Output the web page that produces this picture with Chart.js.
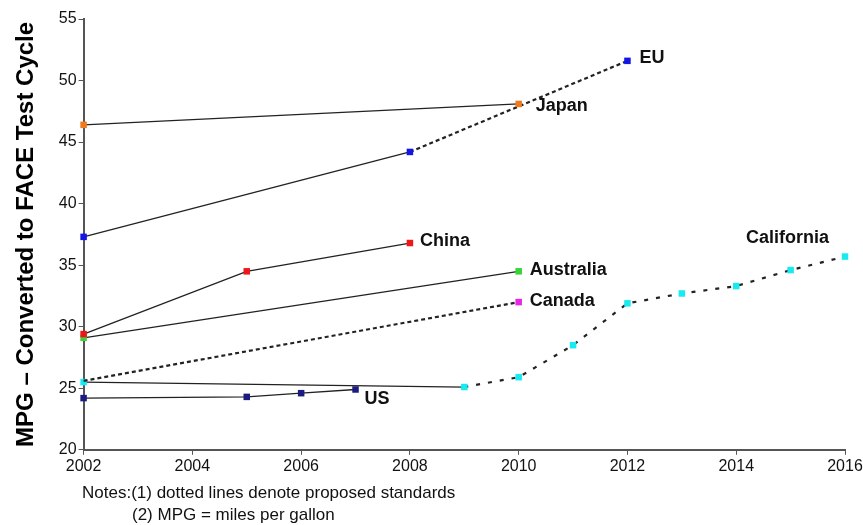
<!DOCTYPE html>
<html>
<head>
<meta charset="utf-8">
<script src="https://cdn.jsdelivr.net/npm/chart.js@4.4.0/dist/chart.umd.min.js"></script>
<style>
  html, body { margin: 0; padding: 0; background: #fff; }
  #wrap { position: relative; width: 863px; height: 525px; }
  .note { position: absolute; font: 17px "Liberation Sans", Arial, sans-serif; color: #111; white-space: nowrap; }
</style>
</head>
<body>
<div id="wrap">
  <canvas id="mpgChart" width="863" height="525"></canvas>
  <div class="note" style="left:82px; top:483px;">Notes:(1) dotted lines denote proposed standards</div>
  <div class="note" style="left:132px; top:505px;">(2) MPG = miles per gallon</div>
</div>
<script>
// Years and MPG values
const japanYears = [2002, 2010];
const japanMpg = [46.4, 48.1];

const euYears = [2002, 2008, 2012];
const euMpg = [37.3, 44.2, 51.6];

const chinaYears = [2002, 2005, 2008];
const chinaMpg = [29.4, 34.5, 36.8];

const australiaYears = [2002, 2010];
const australiaMpg = [29.1, 34.5];

const canadaYears = [2002, 2010];
const canadaMpg = [25.6, 32.0];

const californiaYears = [2002, 2009, 2010, 2011, 2012, 2013, 2014, 2015, 2016];
const californiaMpg = [25.5, 25.1, 25.9, 28.5, 31.9, 32.7, 33.3, 34.6, 35.7];

const usYears = [2002, 2005, 2006, 2007];
const usMpg = [24.2, 24.3, 24.6, 24.9];

const xTicks = [2002, 2004, 2006, 2008, 2010, 2012, 2014, 2016];
const yTicks = [20, 25, 30, 35, 40, 45, 50, 55];

const toPoints = (xs, ys) => xs.map((x, i) => ({ x: x, y: ys[i] }));

// dashed from this point index on (proposed standards)
function dashFrom(index, pattern) {
    return {
        borderDash: ctx => ctx.p0DataIndex >= index ? pattern : undefined,
        borderWidth: ctx => ctx.p0DataIndex >= index ? 2.2 : 1.3
    };
}

function series(name, xs, ys, color, extra) {
    return Object.assign({
        label: name,
        data: toPoints(xs, ys),
        borderColor: '#222',
        borderWidth: 1.3,
        pointStyle: 'rect',
        pointRadius: 4.6,
        pointBorderWidth: 0,
        pointBackgroundColor: color,
        pointBorderColor: color,
        fill: false,
        clip: false,
        tension: 0
    }, extra || {});
}

const datasets = [
    series('Japan', japanYears, japanMpg, '#f07a1e'),
    series('EU', euYears, euMpg, '#1414e6', { segment: dashFrom(1, [4, 3]) }),
    series('China', chinaYears, chinaMpg, '#ee1616'),
    series('Australia', australiaYears, australiaMpg, '#36d436'),
    series('Canada', canadaYears, canadaMpg, '#e626e6', {
        pointRadius: [0, 4.6],
        segment: dashFrom(0, [4, 3])
    }),
    series('US', usYears, usMpg, '#1c1c80'),
    series('California', californiaYears, californiaMpg, '#18eaf2', { segment: dashFrom(1, [4, 8]) })
];

// label text drawn next to a point of each series: [text, dataset index, point index, dx, dy]
const seriesLabels = [
    ['EU', 1, 2, 12, -3],
    ['Japan', 0, 1, 17, 2],
    ['China', 2, 2, 10, -2],
    ['Australia', 3, 1, 11, -1],
    ['Canada', 4, 1, 11, -1],
    ['US', 5, 3, 9, 10],
    ['California', 6, 8, -99, -19]
];

const labelPlugin = {
    id: 'seriesLabels',
    afterDatasetsDraw(chart) {
        const ctx = chart.ctx;
        const xs = chart.scales.x, ys = chart.scales.y;
        ctx.save();
        ctx.font = 'bold 18px "Liberation Sans", Arial, sans-serif';
        ctx.fillStyle = '#111';
        ctx.textBaseline = 'middle';
        seriesLabels.forEach(([text, di, pi, dx, dy]) => {
            const p = chart.data.datasets[di].data[pi];
            ctx.fillText(text, xs.getPixelForValue(p.x) + dx, ys.getPixelForValue(p.y) + dy);
        });
        ctx.restore();
    }
};

const axisColor = '#555';
const tickFont = { family: '"Liberation Sans", Arial, sans-serif', size: 16 };

new Chart(document.getElementById('mpgChart').getContext('2d'), {
    type: 'line',
    data: { datasets: datasets },
    plugins: [labelPlugin],
    options: {
        responsive: false,
        animation: false,
        layout: { padding: { top: 19, right: 5, bottom: 47, left: 12 } },
        plugins: {
            legend: { display: false },
            tooltip: { enabled: false }
        },
        scales: {
            x: {
                type: 'linear',
                min: 2002,
                max: 2016,
                afterBuildTicks: axis => { axis.ticks = xTicks.map(v => ({ value: v })); },
                // keep the last year label just inside the canvas
                afterFit: axis => { axis.paddingRight = 18; },
                ticks: { color: '#111', font: tickFont, padding: 2, maxRotation: 0, callback: v => String(v) },
                grid: { drawOnChartArea: false, drawTicks: true, tickLength: 5, color: axisColor },
                border: { color: axisColor, width: 2 }
            },
            y: {
                min: 20,
                max: 55,
                afterBuildTicks: axis => { axis.ticks = yTicks.map(v => ({ value: v })); },
                ticks: { color: '#111', font: tickFont, padding: 2 },
                grid: { drawOnChartArea: false, drawTicks: true, tickLength: 5, color: axisColor },
                border: { color: axisColor, width: 2 },
                title: {
                    display: true,
                    text: 'MPG \u2013 Converted to FACE Test Cycle',
                    color: '#000',
                    font: { family: '"Liberation Sans", Arial, sans-serif', size: 24, weight: 'bold' },
                    padding: { top: 0, bottom: 16 }
                }
            }
        }
    }
});
</script>
</body>
</html>
